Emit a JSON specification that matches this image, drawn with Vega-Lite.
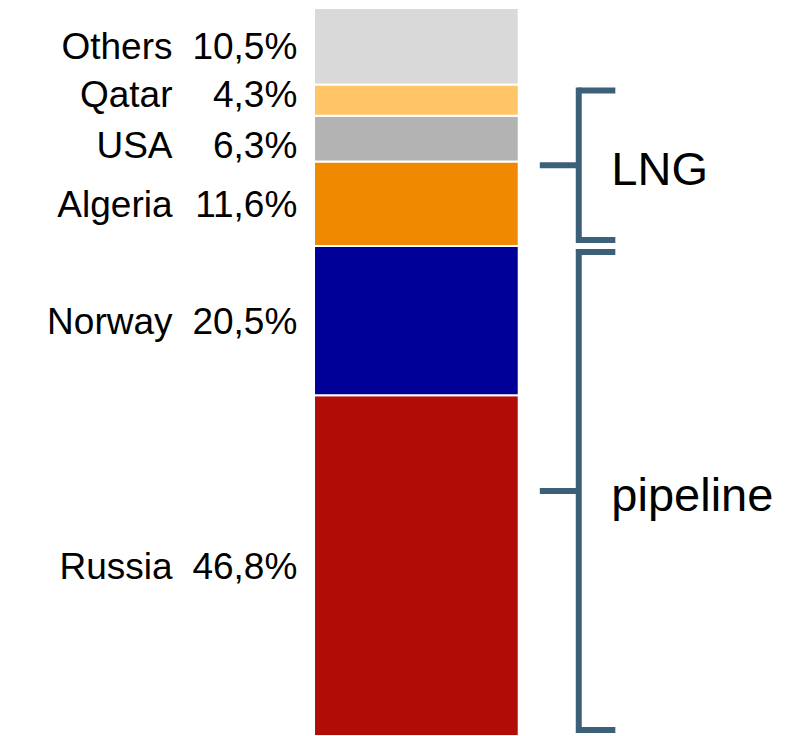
{
  "$schema": "https://vega.github.io/schema/vega-lite/v6.json",
  "width": 795,
  "height": 736,
  "padding": 0,
  "autosize": "none",
  "background": "white",
  "config": {"view": {"stroke": null}, "font": "Liberation Sans"},
  "data": {
    "values": [
      {"country": "Russia", "share": 46.8, "route": "pipeline", "order": 1},
      {"country": "Norway", "share": 20.5, "route": "pipeline", "order": 2},
      {"country": "Algeria", "share": 11.6, "route": "LNG", "order": 3},
      {"country": "USA", "share": 6.3, "route": "LNG", "order": 4},
      {"country": "Qatar", "share": 4.3, "route": "LNG", "order": 5},
      {"country": "Others", "share": 10.5, "route": "none", "order": 6}
    ]
  },
  "transform": [
    {"stack": "share", "groupby": [], "sort": [{"field": "order", "order": "ascending"}], "as": ["lo", "hi"]},
    {"calculate": "(datum.lo + datum.hi) / 2", "as": "mid"},
    {"calculate": "replace(format(datum.share, '.1f'), '.', ',') + '%'", "as": "pct"}
  ],
  "layer": [
    {
      "mark": {"type": "bar", "stroke": "white", "strokeWidth": 2},
      "encoding": {
        "x": {"datum": 39.5, "type": "quantitative", "scale": {"domain": [0, 100]}, "axis": null},
        "x2": {"datum": 65.25},
        "y": {"field": "lo", "type": "quantitative", "scale": {"domain": [0, 101.1], "nice": false}, "axis": null},
        "y2": {"field": "hi"},
        "color": {
          "field": "country",
          "type": "nominal",
          "legend": null,
          "scale": {
            "domain": ["Russia", "Norway", "Algeria", "USA", "Qatar", "Others"],
            "range": ["#b00d06", "#000099", "#ef8900", "#b3b3b3", "#ffc566", "#d9d9d9"]
          }
        }
      }
    },
    {
      "mark": {
        "type": "text", "align": "right", "baseline": "middle", "fontSize": 37, "color": "black",
        "dy": {"expr": "datum.country === 'Qatar' ? -4 : datum.country === 'USA' ? 8 : 2"}
      },
      "encoding": {
        "x": {"datum": 21.7, "type": "quantitative", "scale": {"domain": [0, 100]}, "axis": null},
        "y": {"field": "mid", "type": "quantitative", "axis": null},
        "text": {"field": "country"}
      }
    },
    {
      "mark": {
        "type": "text", "align": "right", "baseline": "middle", "fontSize": 37, "color": "black",
        "dy": {"expr": "datum.country === 'Qatar' ? -4 : datum.country === 'USA' ? 8 : 2"}
      },
      "encoding": {
        "x": {"datum": 37.4, "type": "quantitative", "scale": {"domain": [0, 100]}, "axis": null},
        "y": {"field": "mid", "type": "quantitative", "axis": null},
        "text": {"field": "pct"}
      }
    },
    {
      "transform": [
        {"filter": "datum.route !== 'none'"},
        {"aggregate": [{"op": "min", "field": "lo", "as": "blo"}, {"op": "max", "field": "hi", "as": "bhi"}], "groupby": ["route"]},
        {"calculate": "(datum.blo + datum.bhi) / 2", "as": "bmid"}
      ],
      "layer": [
        {
          "mark": {"type": "rule", "color": "#3d6079", "strokeWidth": 6, "strokeCap": "square", "yOffset": 6, "y2Offset": -6},
          "encoding": {
            "x": {"datum": 72.8, "type": "quantitative", "scale": {"domain": [0, 100]}, "axis": null},
            "y": {"field": "bhi", "type": "quantitative", "axis": null},
            "y2": {"field": "blo"}
          }
        },
        {
          "mark": {"type": "rule", "color": "#3d6079", "strokeWidth": 6, "strokeCap": "butt", "yOffset": 6},
          "encoding": {
            "x": {"datum": 72.8, "type": "quantitative", "scale": {"domain": [0, 100]}, "axis": null},
            "x2": {"datum": 77.4},
            "y": {"field": "bhi", "type": "quantitative", "axis": null}
          }
        },
        {
          "mark": {"type": "rule", "color": "#3d6079", "strokeWidth": 6, "strokeCap": "butt", "yOffset": -6},
          "encoding": {
            "x": {"datum": 72.8, "type": "quantitative", "scale": {"domain": [0, 100]}, "axis": null},
            "x2": {"datum": 77.4},
            "y": {"field": "blo", "type": "quantitative", "axis": null}
          }
        },
        {
          "mark": {"type": "rule", "color": "#3d6079", "strokeWidth": 6, "strokeCap": "butt"},
          "encoding": {
            "x": {"datum": 67.9, "type": "quantitative", "scale": {"domain": [0, 100]}, "axis": null},
            "x2": {"datum": 72.8},
            "y": {"field": "bmid", "type": "quantitative", "axis": null}
          }
        },
        {
          "mark": {"type": "text", "align": "left", "baseline": "middle", "fontSize": 47, "color": "black", "dy": 6},
          "encoding": {
            "x": {"datum": 76.9, "type": "quantitative", "scale": {"domain": [0, 100]}, "axis": null},
            "y": {"field": "bmid", "type": "quantitative", "axis": null},
            "text": {"field": "route"}
          }
        }
      ]
    }
  ]
}
